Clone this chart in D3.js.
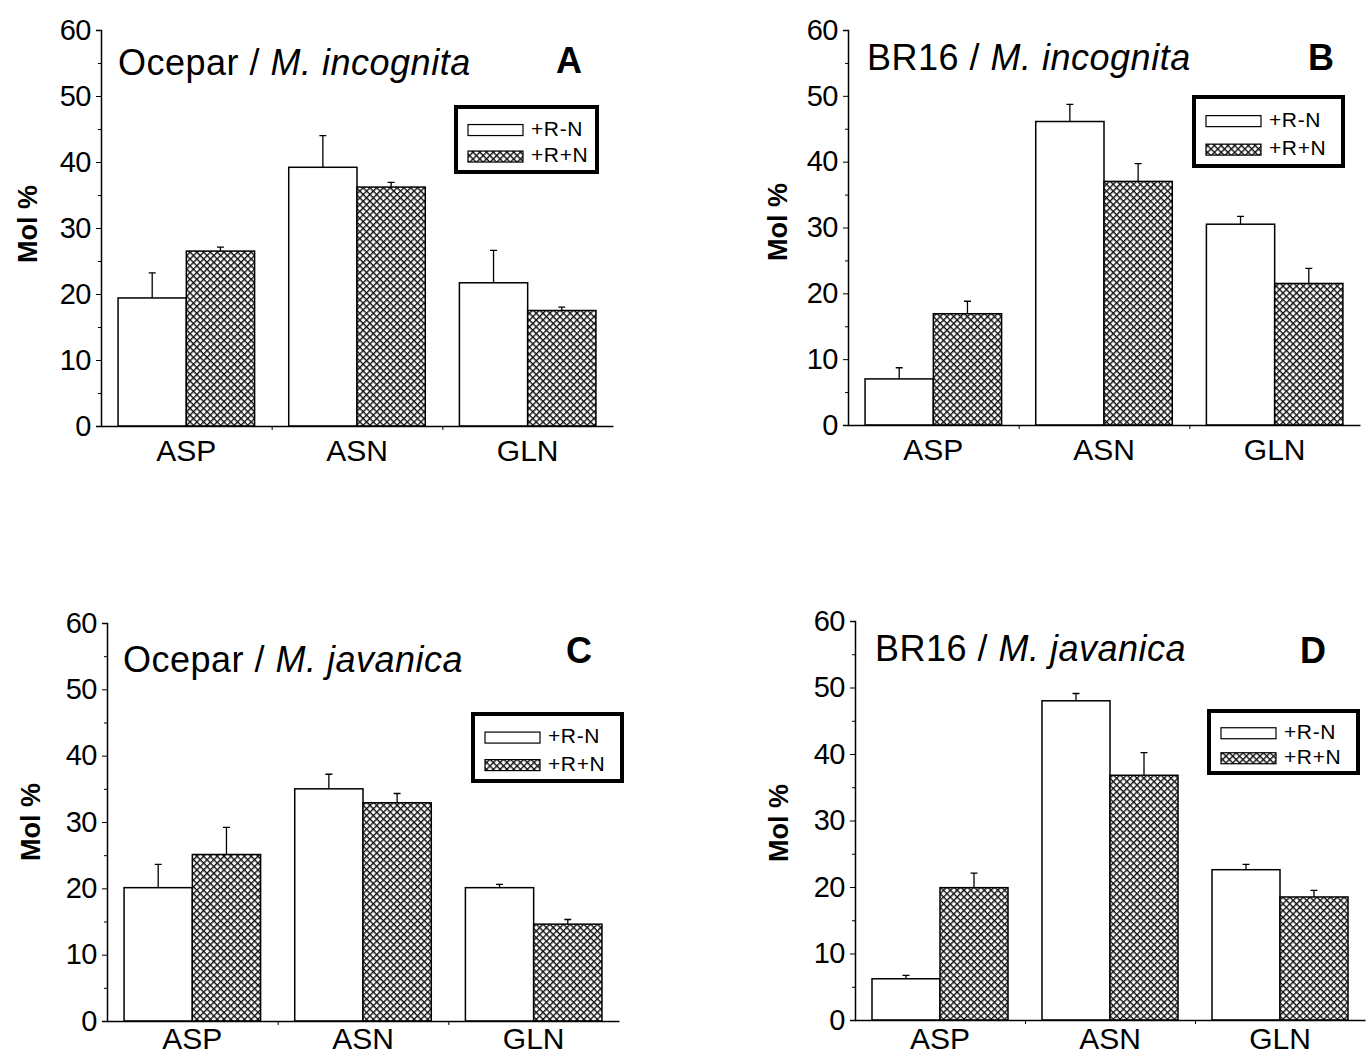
<!DOCTYPE html>
<html lang="en">
<head>
<meta charset="utf-8">
<title>Mol % bars</title>
<script type="text/javascript" src="https://cdnjs.cloudflare.com/ajax/libs/d3/7.8.5/d3.min.js"></script>
<style type="text/css">
  body { margin: 0; background: #fff; }
  text { font-family: "Liberation Sans", Arial, sans-serif; fill: #000; }
</style>
</head>
<body>
<script type="text/javascript">
// data
var categories = ["ASP", "ASN", "GLN"];
var seriesLabels = ["+R-N", "+R+N"];
var yTicks = [0, 10, 20, 30, 40, 50, 60];
var yMinorTicks = [5, 15, 25, 35, 45, 55];

var hostNames = ["Ocepar", "BR16", "Ocepar", "BR16"];
var speciesNames = ["M. incognita", "M. incognita", "M. javanica", "M. javanica"];
var panelLetters = ["A", "B", "C", "D"];

// A : Ocepar / M. incognita
var meanA_RN  = [19.4, 39.2, 21.7];
var errA_RN   = [3.8, 4.8, 4.9];
var meanA_RPN = [26.5, 36.2, 17.5];
var errA_RPN  = [0.6, 0.7, 0.5];
// B : BR16 / M. incognita
var meanB_RN  = [7.0, 46.1, 30.5];
var errB_RN   = [1.7, 2.6, 1.2];
var meanB_RPN = [16.9, 37.0, 21.5];
var errB_RPN  = [1.9, 2.7, 2.3];
// C : Ocepar / M. javanica
var meanC_RN  = [20.1, 35.0, 20.1];
var errC_RN   = [3.5, 2.2, 0.5];
var meanC_RPN = [25.1, 32.9, 14.6];
var errC_RPN  = [4.1, 1.4, 0.7];
// D : BR16 / M. javanica
var meanD_RN  = [6.2, 48.0, 22.6];
var errD_RN   = [0.5, 1.1, 0.8];
var meanD_RPN = [19.9, 36.8, 18.5];
var errD_RPN  = [2.2, 3.4, 1.0];

var panelMeans = [[meanA_RN, meanA_RPN], [meanB_RN, meanB_RPN], [meanC_RN, meanC_RPN], [meanD_RN, meanD_RPN]];
var panelErrs  = [[errA_RN, errA_RPN], [errB_RN, errB_RPN], [errC_RN, errC_RPN], [errD_RN, errD_RPN]];

// layout of the four panels
var layout = [
  {left: 101, right: 613, zeroY: 426, topY: 30, titleX: 118, titleY: 75, letterX: 569, letterY: 73, ylabX: 37, ylabY: 224, catY: 461, leg: {x: 456, y: 107, w: 141, h: 65}},
  {left: 848, right: 1360, zeroY: 425, topY: 30, titleX: 867, titleY: 70, letterX: 1321, letterY: 70, ylabX: 787, ylabY: 222, catY: 460, leg: {x: 1194, y: 97, w: 149, h: 69}},
  {left: 107, right: 619, zeroY: 1021, topY: 623, titleX: 123, titleY: 672, letterX: 579, letterY: 663, ylabX: 40, ylabY: 822, catY: 1049, leg: {x: 473, y: 714, w: 149, h: 67}},
  {left: 855, right: 1365, zeroY: 1020, topY: 621, titleX: 875, titleY: 661, letterX: 1313, letterY: 663, ylabX: 788, ylabY: 823, catY: 1049, leg: {x: 1209, y: 711, w: 149, h: 62}}
];

var w = 1369, h = 1057;
var svg = d3.select("body").append("svg")
  .attr("width", w)
  .attr("height", h);

var defs = svg.append("defs");
var pat = defs.append("pattern")
  .attr("id", "hatch")
  .attr("patternUnits", "userSpaceOnUse")
  .attr("width", 4.8)
  .attr("height", 4.8)
  .attr("patternTransform", "rotate(45)");
pat.append("rect").attr("width", 4.8).attr("height", 4.8).attr("fill", "#fff");
pat.append("rect").attr("width", 4.8).attr("height", 1.4).attr("fill", "#111");
pat.append("rect").attr("width", 1.4).attr("height", 4.8).attr("fill", "#111");

var fills = ["#fff", "url(#hatch)"];

layout.forEach(function(p, pi) {
  var g = svg.append("g");

  var y = d3.scaleLinear().domain([0, 60]).range([p.zeroY, p.topY]);
  var x = d3.scaleBand().domain(categories).range([p.left, p.right])
    .paddingInner(0.2).paddingOuter(0.1);
  var xs = d3.scaleBand().domain([0, 1]).range([0, x.bandwidth()]);
  var xGroups = d3.scaleLinear().domain([0, 3]).range([p.left, p.right]);

  // bars
  [0, 1].forEach(function(s) {
    var means = panelMeans[pi][s];
    var errs = panelErrs[pi][s];
    g.selectAll(".bar" + s)
      .data(categories)
      .enter()
      .append("rect")
      .attr("x", function(d) { return x(d) + xs(s); })
      .attr("y", function(d, i) { return y(means[i]); })
      .attr("width", xs.bandwidth())
      .attr("height", function(d, i) { return y(0) - y(means[i]); })
      .attr("fill", fills[s])
      .attr("stroke", "#000")
      .attr("stroke-width", 1.5);

    // upper error bars
    g.selectAll(".err" + s)
      .data(categories)
      .enter()
      .append("path")
      .attr("d", function(d, i) {
        var cx = x(d) + xs(s) + xs.bandwidth() / 2;
        var y1 = y(means[i]), y2 = y(means[i] + errs[i]);
        return "M" + cx + "," + y1 + "V" + y2 + "M" + (cx - 3.5) + "," + y2 + "H" + (cx + 3.5);
      })
      .attr("stroke", "#000")
      .attr("stroke-width", 1.3)
      .attr("fill", "none");
  });

  // y axis
  var yAxis = g.append("g")
    .attr("transform", "translate(" + p.left + ",0)")
    .call(d3.axisLeft(y).tickValues(yTicks).tickSize(5).tickPadding(5));
  yAxis.select(".domain").attr("stroke-width", 1.5);
  yAxis.selectAll(".tick text").attr("font-size", 29).attr("letter-spacing", -0.5);
  g.append("g")
    .attr("transform", "translate(" + p.left + ",0)")
    .call(d3.axisLeft(y).tickValues(yMinorTicks).tickSize(3).tickFormat(""))
    .select(".domain").remove();

  // x axis
  var xAxis = g.append("g")
    .attr("transform", "translate(0," + p.zeroY + ")")
    .call(d3.axisBottom(xGroups).tickValues([1, 2]).tickSize(4).tickFormat("").tickSizeOuter(0));
  xAxis.select(".domain").attr("stroke-width", 1.5);

  g.selectAll(".cat")
    .data(categories)
    .enter()
    .append("text")
    .attr("x", function(d) { return x(d) + x.bandwidth() / 2; })
    .attr("y", p.catY)
    .attr("text-anchor", "middle")
    .attr("font-size", 30)
    .text(function(d) { return d; });

  // y label
  g.append("text")
    .attr("transform", "translate(" + p.ylabX + "," + p.ylabY + ") rotate(-90)")
    .attr("text-anchor", "middle")
    .attr("font-size", 27)
    .attr("font-weight", "bold")
    .text("Mol %");

  // title
  var t = g.append("text")
    .attr("x", p.titleX)
    .attr("y", p.titleY)
    .attr("font-size", 36)
    .attr("letter-spacing", 0.5);
  t.append("tspan").text(hostNames[pi] + " / ");
  t.append("tspan").attr("font-style", "italic").text(speciesNames[pi]);

  g.append("text")
    .attr("x", p.letterX)
    .attr("y", p.letterY)
    .attr("text-anchor", "middle")
    .attr("font-size", 36)
    .attr("font-weight", "bold")
    .text(panelLetters[pi]);

  // legend
  var lg = g.append("g").attr("transform", "translate(" + p.leg.x + "," + p.leg.y + ")");
  lg.append("rect")
    .attr("width", p.leg.w)
    .attr("height", p.leg.h)
    .attr("fill", "#fff")
    .attr("stroke", "#000")
    .attr("stroke-width", 4);
  var rowGap = (p.leg.h - 20) / 2 + 4;
  lg.selectAll(".sw")
    .data(seriesLabels)
    .enter()
    .append("rect")
    .attr("x", 12)
    .attr("y", function(d, i) { return p.leg.h * 0.27 + i * rowGap; })
    .attr("width", 55)
    .attr("height", 11)
    .attr("fill", function(d, i) { return fills[i]; })
    .attr("stroke", "#000")
    .attr("stroke-width", 1.2);
  lg.selectAll(".lt")
    .data(seriesLabels)
    .enter()
    .append("text")
    .attr("x", 75)
    .attr("y", function(d, i) { return p.leg.h * 0.27 + 11 + i * rowGap; })
    .attr("font-size", 21)
    .attr("letter-spacing", 0.6)
    .text(function(d) { return d; });
});
</script>
</body>
</html>
